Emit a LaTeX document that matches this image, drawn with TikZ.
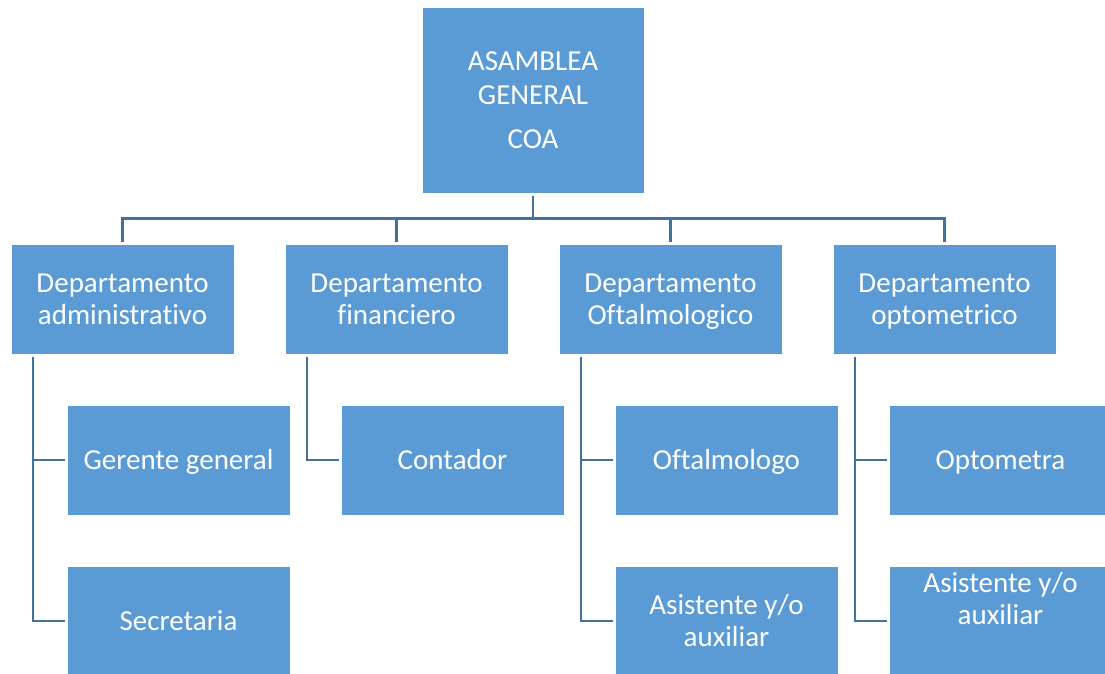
\documentclass[tikz,border=0pt]{standalone}
\usepackage{fontspec}
\setmainfont{Carlito}[Ligatures={NoCommon}]
\definecolor{boxblue}{HTML}{5B9BD5}
\definecolor{lineblue}{HTML}{41719C}
\newcommand{\ls}{\rule[-9.6pt]{0pt}{38pt}}
\begin{document}
\begin{tikzpicture}[x=1pt,y=-1pt,
  box/.style={fill=boxblue, draw=white, line width=0.6pt, minimum width=223pt, minimum height=110pt, inner sep=0pt, text=white, font=\fontsize{29}{32}\selectfont, align=center},
  txt/.style={text=white, font=\fontsize{29}{32}\selectfont, align=center, inner sep=0pt},
  conn/.style={draw=lineblue, line width=2.4pt, shorten <=3pt, shorten >=2pt}]
\useasboundingbox (0,0) rectangle (1105,673);
\clip (0,0) rectangle (1105,673);
% top
\node[box, minimum width=222pt, minimum height=186pt] (top) at (533,100) {ASAMBLEA\\[2pt]GENERAL\\[12pt]COA};
% departments
\node[box] (d1) at (122.5,299) {\ls Departamento\\administrativo\strut};
\node[box] (d2) at (396.5,299) {\ls Departamento\\financiero\strut};
\node[box] (d3) at (670.5,299) {\ls Departamento\\Oftalmologico\strut};
\node[box] (d4) at (944.5,299) {\ls Departamento\\optometrico\strut};
% sub boxes
\node[box] (g1) at (178.5,460) {\ls Gerente general};
\node[box] (s1) at (178.5,621) {\ls Secretaria};
\node[box] (c2) at (452.5,460) {\ls Contador};
\node[box] (o3) at (726.5,460) {\ls Oftalmologo};
\node[box] (a3) at (726.5,621) {\ls Asistente y/o\\auxiliar\strut};
\node[box] (p4) at (1000.5,460) {\ls Optometra};
\node[box] (a4) at (1000.5,621) {};
\node[txt] (a4t) at (1000.5,599) {\ls Asistente y/o\\auxiliar\strut};
% connectors
\foreach \d in {d1,d2,d3,d4}
  \draw[conn] (top.south) -- ++(0,25) -| (\d.north);
\draw[conn] ([xshift=22pt]d1.south west) |- (g1.west);
\draw[conn] ([xshift=22pt]d1.south west) |- (s1.west);
\draw[conn] ([xshift=22pt]d2.south west) |- (c2.west);
\draw[conn] ([xshift=22pt]d3.south west) |- (o3.west);
\draw[conn] ([xshift=22pt]d3.south west) |- (a3.west);
\draw[conn] ([xshift=22pt]d4.south west) |- (p4.west);
\draw[conn] ([xshift=22pt]d4.south west) |- (a4.west);
\end{tikzpicture}
\end{document}
